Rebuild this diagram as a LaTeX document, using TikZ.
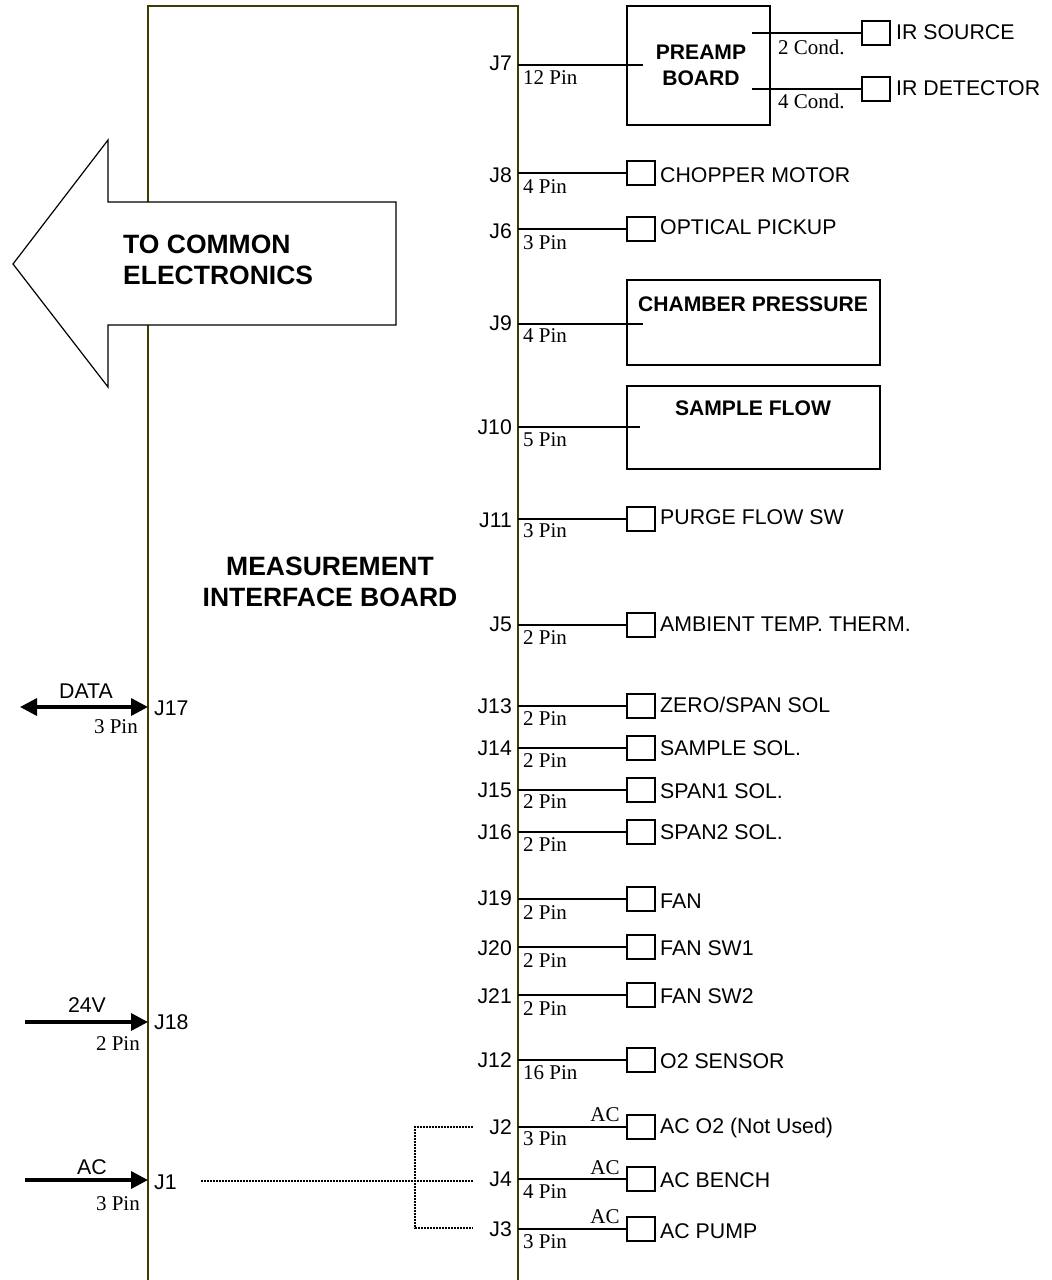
\documentclass[tikz,border=0pt]{standalone}
\usepackage{fontspec}
\setmainfont{Liberation Sans}
\newfontfamily\pinfont{Liberation Serif}
\usetikzlibrary{arrows.meta}
\definecolor{barcol}{HTML}{3F3C00}
\tikzset{
 lab/.style={inner sep=0pt,anchor=west,font=\fontsize{21.3}{21.3}\selectfont},
 jlab/.style={inner sep=0pt,anchor=east,font=\fontsize{21.2}{21.2}\selectfont},
 pinlab/.style={inner sep=0pt,anchor=west,font=\pinfont\fontsize{21}{21}\selectfont},
 titlelab/.style={inner sep=0pt,align=left,font=\bfseries\fontsize{26.5}{31}\selectfont},
 boldlab/.style={inner sep=0pt,align=center,font=\bfseries\fontsize{21.1}{26}\selectfont},
 smallbox/.style={draw,line width=2pt,minimum width=28pt,minimum height=24pt,inner sep=0pt},
 bigbox/.style={draw,line width=2.2pt,inner sep=0pt},
 wire/.style={line width=1.8pt},
 power/.style={line width=3.5pt,-{Triangle[length=17pt,width=17pt]}},
 dots/.style={line width=2.6pt,dash pattern=on 2pt off 1pt},
}
\begin{document}
\begin{tikzpicture}[x=1pt,y=-1pt]
\useasboundingbox (0,0) rectangle (1052,1280);
% board outline
\coordinate (barBL) at (148,1280);
\coordinate (barTL) at (148,6);
\coordinate (barTR) at (518,6);
\coordinate (barBR) at (518,1280);
\draw[barcol,line width=2.4pt] (barBL) -- (barTL) -- (barTR) -- (barBR);
% big arrow
\draw[fill=white,line width=1.2pt] (13,264) -- (108,140) -- (108,202) -- (396,202) -- (396,325) -- (108,325) -- (108,387) -- cycle;
\node[titlelab,anchor=west] (common) at (123,260) {TO COMMON\\ELECTRONICS};
\node[titlelab,align=center] (mib) at (330,582) {MEASUREMENT\\INTERFACE BOARD};
% preamp
\node[bigbox,minimum width=143pt,minimum height=119pt] (preamp) at (698.5,65.5) {};
\node[boldlab] (preamptxt) at (701,65) {PREAMP\\BOARD};
\coordinate (j7) at (518,65);
\coordinate (j7e) at (643,65);
\draw[wire] (j7) -- (j7e);
\node[jlab] (j7t) at (512,63) {J7};
\node[pinlab] (j7p) at (523,78) {12 Pin};
\node[smallbox] (irs) at (876,33) {};
\node[smallbox] (ird) at (876,89) {};
\coordinate (irsa) at (752,33);
\coordinate (irda) at (752,89);
\draw[wire] (irsa) -- (irs);
\draw[wire] (irda) -- (ird);
\node[lab] (irst) at (896,32) {IR SOURCE};
\node[lab] (irdt) at (896,88) {IR DETECTOR};
\node[pinlab] (irsp) at (778,47) {2 Cond.};
\node[pinlab] (irdp) at (778,101) {4 Cond.};
% chamber pressure
\node[bigbox,minimum width=253pt,minimum height=85pt] (cp) at (753.5,322.5) {};
\node[boldlab] (cpt) at (753,304) {CHAMBER PRESSURE};
\coordinate (j9) at (518,324);
\coordinate (j9e) at (643,324);
\draw[wire] (j9) -- (j9e);
\node[jlab] (j9t) at (512,323) {J9};
\node[pinlab] (j9p) at (523,336) {4 Pin};
% sample flow
\node[bigbox,minimum width=253pt,minimum height=83pt] (sf) at (753.5,427.5) {};
\node[boldlab] (sft) at (753,408) {SAMPLE FLOW};
\coordinate (j10) at (518,427);
\coordinate (j10e) at (640,427);
\draw[wire] (j10) -- (j10e);
\node[jlab] (j10t) at (512,427) {J10};
\node[pinlab] (j10p) at (523,440) {5 Pin};
% plain rows: name / line y / J-label y / pin y / text y / pin / text
\foreach \n/\y/\jy/\py/\ty/\pin/\txt in {
 J8/173/175/187/175/4 Pin/CHOPPER MOTOR,
 J6/229/231/243/227/3 Pin/OPTICAL PICKUP,
 J11/519/520/531/517/3 Pin/PURGE FLOW SW,
 J5/625/624/638/624/2 Pin/AMBIENT TEMP. THERM.,
 J13/706/706/719/705/2 Pin/ZERO\slash SPAN SOL,
 J14/748/748/761/748/2 Pin/SAMPLE SOL.,
 J15/790/790/802/791/2 Pin/SPAN1 SOL.,
 J16/832/832/845/832/2 Pin/SPAN2 SOL.,
 J19/899/898/913/901/2 Pin/FAN,
 J20/947/948/961/948/2 Pin/FAN SW1,
 J21/995/996/1009/996/2 Pin/FAN SW2,
 J12/1060/1060/1073/1061/16 Pin/O2 SENSOR,
 J2/1127/1127/1139/1128/3 Pin/AC O2 (Not Used),
 J4/1179/1179/1192/1180/4 Pin/AC BENCH,
 J3/1229/1229/1242/1231/3 Pin/AC PUMP}
{
 \coordinate (c\n) at (518,\y);
 \node[smallbox] (b\n) at (641,\y) {};
 \draw[wire] (c\n) -- (b\n);
 \node[jlab] (t\n) at (512,\jy) {\n};
 \node[pinlab] (p\n) at (523,\py) {\pin};
 \node[lab] (l\n) at (660,\ty) {\txt};
}
\foreach \n/\y in {J2/1115,J4/1168,J3/1217}
 \node[pinlab,anchor=center] (ac\n) at (605,\y) {AC};
% left inputs
\coordinate (d17a) at (20,707);
\coordinate (d17b) at (148,707);
\draw[power,{Triangle[length=17pt,width=17pt]}-{Triangle[length=17pt,width=17pt]}] (d17a) -- (d17b);
\node[lab,anchor=center] (dt) at (86,691) {DATA};
\node[lab] (j17) at (154,708) {J17};
\node[pinlab,anchor=east] (p17) at (138,727) {3 Pin};
\coordinate (d18a) at (25,1022);
\coordinate (d18b) at (148,1022);
\draw[power] (d18a) -- (d18b);
\node[lab,anchor=center] (v24) at (87,1005) {24V};
\node[lab] (j18) at (154,1022) {J18};
\node[pinlab,anchor=east] (p18) at (140,1044) {2 Pin};
\coordinate (d1a) at (25,1180);
\coordinate (d1b) at (148,1180);
\draw[power] (d1a) -- (d1b);
\node[lab,anchor=center] (ac1) at (92,1167) {AC};
\node[lab] (j1) at (154,1182) {J1};
\node[pinlab,anchor=east] (p1) at (140,1204) {3 Pin};
% dotted distribution
\coordinate (ds) at (201,1181);
\coordinate (dj) at (415,1181);
\coordinate (dtop) at (415,1127);
\coordinate (dbot) at (415,1228);
\coordinate (e2) at (473,1127);
\coordinate (e4) at (473,1181);
\coordinate (e3) at (473,1228);
\draw[dots] (ds) -- (e4);
\draw[dots] (e2) -- (dtop) -- (dbot) -- (e3);
\end{tikzpicture}
\end{document}
